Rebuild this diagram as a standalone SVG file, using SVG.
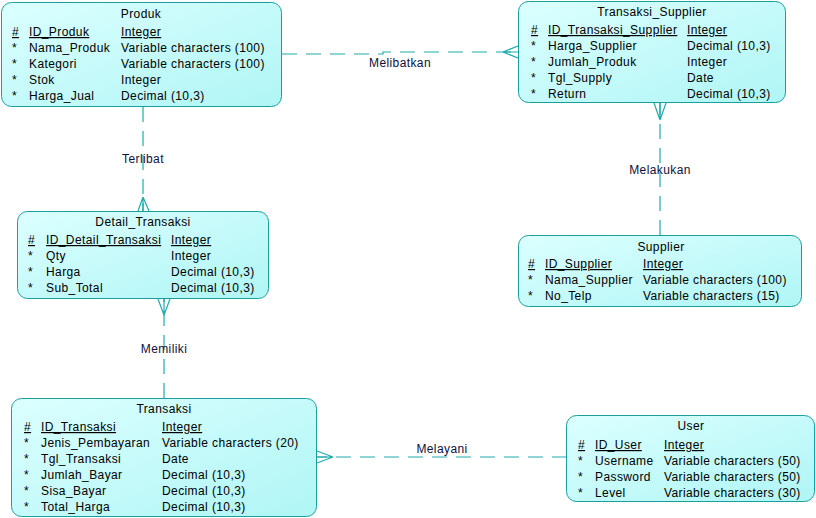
<svg xmlns="http://www.w3.org/2000/svg" width="816" height="518" viewBox="0 0 816 518">
<defs>
<linearGradient id="g" x1="0" y1="0" x2="1" y2="1">
<stop offset="0" stop-color="#dcffff"/>
<stop offset="1" stop-color="#b0f5f5"/>
</linearGradient>
<style>
.box{fill:url(#g);stroke:#1a9e9e;stroke-width:1}
text{font-family:"Liberation Sans",Arial,sans-serif;font-size:12px;letter-spacing:0.4px;fill:#000}
.t{text-anchor:middle}
.k{text-decoration:underline}
.lbl{fill:#10103a;text-anchor:middle}
.c{fill:none;stroke:#1fabab;stroke-width:1.2;stroke-dasharray:15 9}
.cf{fill:none;stroke:#1fabab;stroke-width:1.2}
</style>
</defs>
<rect width="816" height="518" fill="#fff"/>
<g id="connectors">
<path class="c" d="M282,54 H383 V52 H518"/>
<path class="cf" d="M503,52 L518,46 M503,52 L518,58 M503,52 H518"/>
<text class="lbl" x="400" y="67">Melibatkan</text>
<path class="c" d="M143,107 V211"/>
<path class="cf" d="M143,197 L138,211 M143,197 L149,211 M143,197 V211"/>
<text class="lbl" x="143" y="163">Terlibat</text>
<path class="c" d="M164,398 V299"/>
<path class="cf" d="M164,315 L158,299 M164,315 L170,299 M164,315 V299"/>
<text class="lbl" x="164" y="353">Memiliki</text>
<path class="c" d="M660,235 V103"/>
<path class="cf" d="M660,120 L654,103 M660,120 L666,103 M660,120 V103"/>
<text class="lbl" x="660" y="174">Melakukan</text>
<path class="c" d="M567,457 H317"/>
<path class="cf" d="M333,457 L317,451 M333,457 L317,463 M333,457 H317"/>
<text class="lbl" x="442" y="453">Melayani</text>
</g>
<g id="Produk">
<rect class="box" x="1.5" y="2.5" width="280" height="104" rx="10"/>
<text class="t" x="141" y="18">Produk</text>
<text class="k" x="12" y="36">#</text><text class="k" x="29" y="36">ID_Produk</text><text class="k" x="121" y="36">Integer</text>
<text x="12" y="52">*</text><text x="29" y="52">Nama_Produk</text><text x="121" y="52">Variable characters (100)</text>
<text x="12" y="68">*</text><text x="29" y="68">Kategori</text><text x="121" y="68">Variable characters (100)</text>
<text x="12" y="84">*</text><text x="29" y="84">Stok</text><text x="121" y="84">Integer</text>
<text x="12" y="100">*</text><text x="29" y="100">Harga_Jual</text><text x="121" y="100">Decimal (10,3)</text>
</g>
<g id="Transaksi_Supplier">
<rect class="box" x="518.5" y="1.5" width="267" height="101" rx="10"/>
<text class="t" x="652" y="16">Transaksi_Supplier</text>
<text class="k" x="531" y="34">#</text><text class="k" x="548" y="34">ID_Transaksi_Supplier</text><text class="k" x="687" y="34">Integer</text>
<text x="531" y="50">*</text><text x="548" y="50">Harga_Supplier</text><text x="687" y="50">Decimal (10,3)</text>
<text x="531" y="66">*</text><text x="548" y="66">Jumlah_Produk</text><text x="687" y="66">Integer</text>
<text x="531" y="82">*</text><text x="548" y="82">Tgl_Supply</text><text x="687" y="82">Date</text>
<text x="531" y="98">*</text><text x="548" y="98">Return</text><text x="687" y="98">Decimal (10,3)</text>
</g>
<g id="Detail_Transaksi">
<rect class="box" x="17.5" y="211.5" width="251" height="87" rx="10"/>
<text class="t" x="143" y="226">Detail_Transaksi</text>
<text class="k" x="28" y="244">#</text><text class="k" x="46" y="244">ID_Detail_Transaksi</text><text class="k" x="171" y="244">Integer</text>
<text x="28" y="260">*</text><text x="46" y="260">Qty</text><text x="171" y="260">Integer</text>
<text x="28" y="276">*</text><text x="46" y="276">Harga</text><text x="171" y="276">Decimal (10,3)</text>
<text x="28" y="292">*</text><text x="46" y="292">Sub_Total</text><text x="171" y="292">Decimal (10,3)</text>
</g>
<g id="Supplier">
<rect class="box" x="518.5" y="235.5" width="283" height="71" rx="10"/>
<text class="t" x="661" y="251">Supplier</text>
<text class="k" x="528" y="268">#</text><text class="k" x="545" y="268">ID_Supplier</text><text class="k" x="643" y="268">Integer</text>
<text x="528" y="284">*</text><text x="545" y="284">Nama_Supplier</text><text x="643" y="284">Variable characters (100)</text>
<text x="528" y="300">*</text><text x="545" y="300">No_Telp</text><text x="643" y="300">Variable characters (15)</text>
</g>
<g id="Transaksi">
<rect class="box" x="11.5" y="398.5" width="305" height="118" rx="10"/>
<text class="t" x="164" y="413">Transaksi</text>
<text class="k" x="24" y="431">#</text><text class="k" x="41" y="431">ID_Transaksi</text><text class="k" x="162" y="431">Integer</text>
<text x="24" y="447">*</text><text x="41" y="447">Jenis_Pembayaran</text><text x="162" y="447">Variable characters (20)</text>
<text x="24" y="463">*</text><text x="41" y="463">Tgl_Transaksi</text><text x="162" y="463">Date</text>
<text x="24" y="479">*</text><text x="41" y="479">Jumlah_Bayar</text><text x="162" y="479">Decimal (10,3)</text>
<text x="24" y="495">*</text><text x="41" y="495">Sisa_Bayar</text><text x="162" y="495">Decimal (10,3)</text>
<text x="24" y="511">*</text><text x="41" y="511">Total_Harga</text><text x="162" y="511">Decimal (10,3)</text>
</g>
<g id="User">
<rect class="box" x="566.5" y="415.5" width="248" height="86" rx="10"/>
<text class="t" x="691" y="430">User</text>
<text class="k" x="578" y="449">#</text><text class="k" x="595" y="449">ID_User</text><text class="k" x="664" y="449">Integer</text>
<text x="578" y="465">*</text><text x="595" y="465">Username</text><text x="664" y="465">Variable characters (50)</text>
<text x="578" y="481">*</text><text x="595" y="481">Password</text><text x="664" y="481">Variable characters (50)</text>
<text x="578" y="497">*</text><text x="595" y="497">Level</text><text x="664" y="497">Variable characters (30)</text>
</g>
</svg>
